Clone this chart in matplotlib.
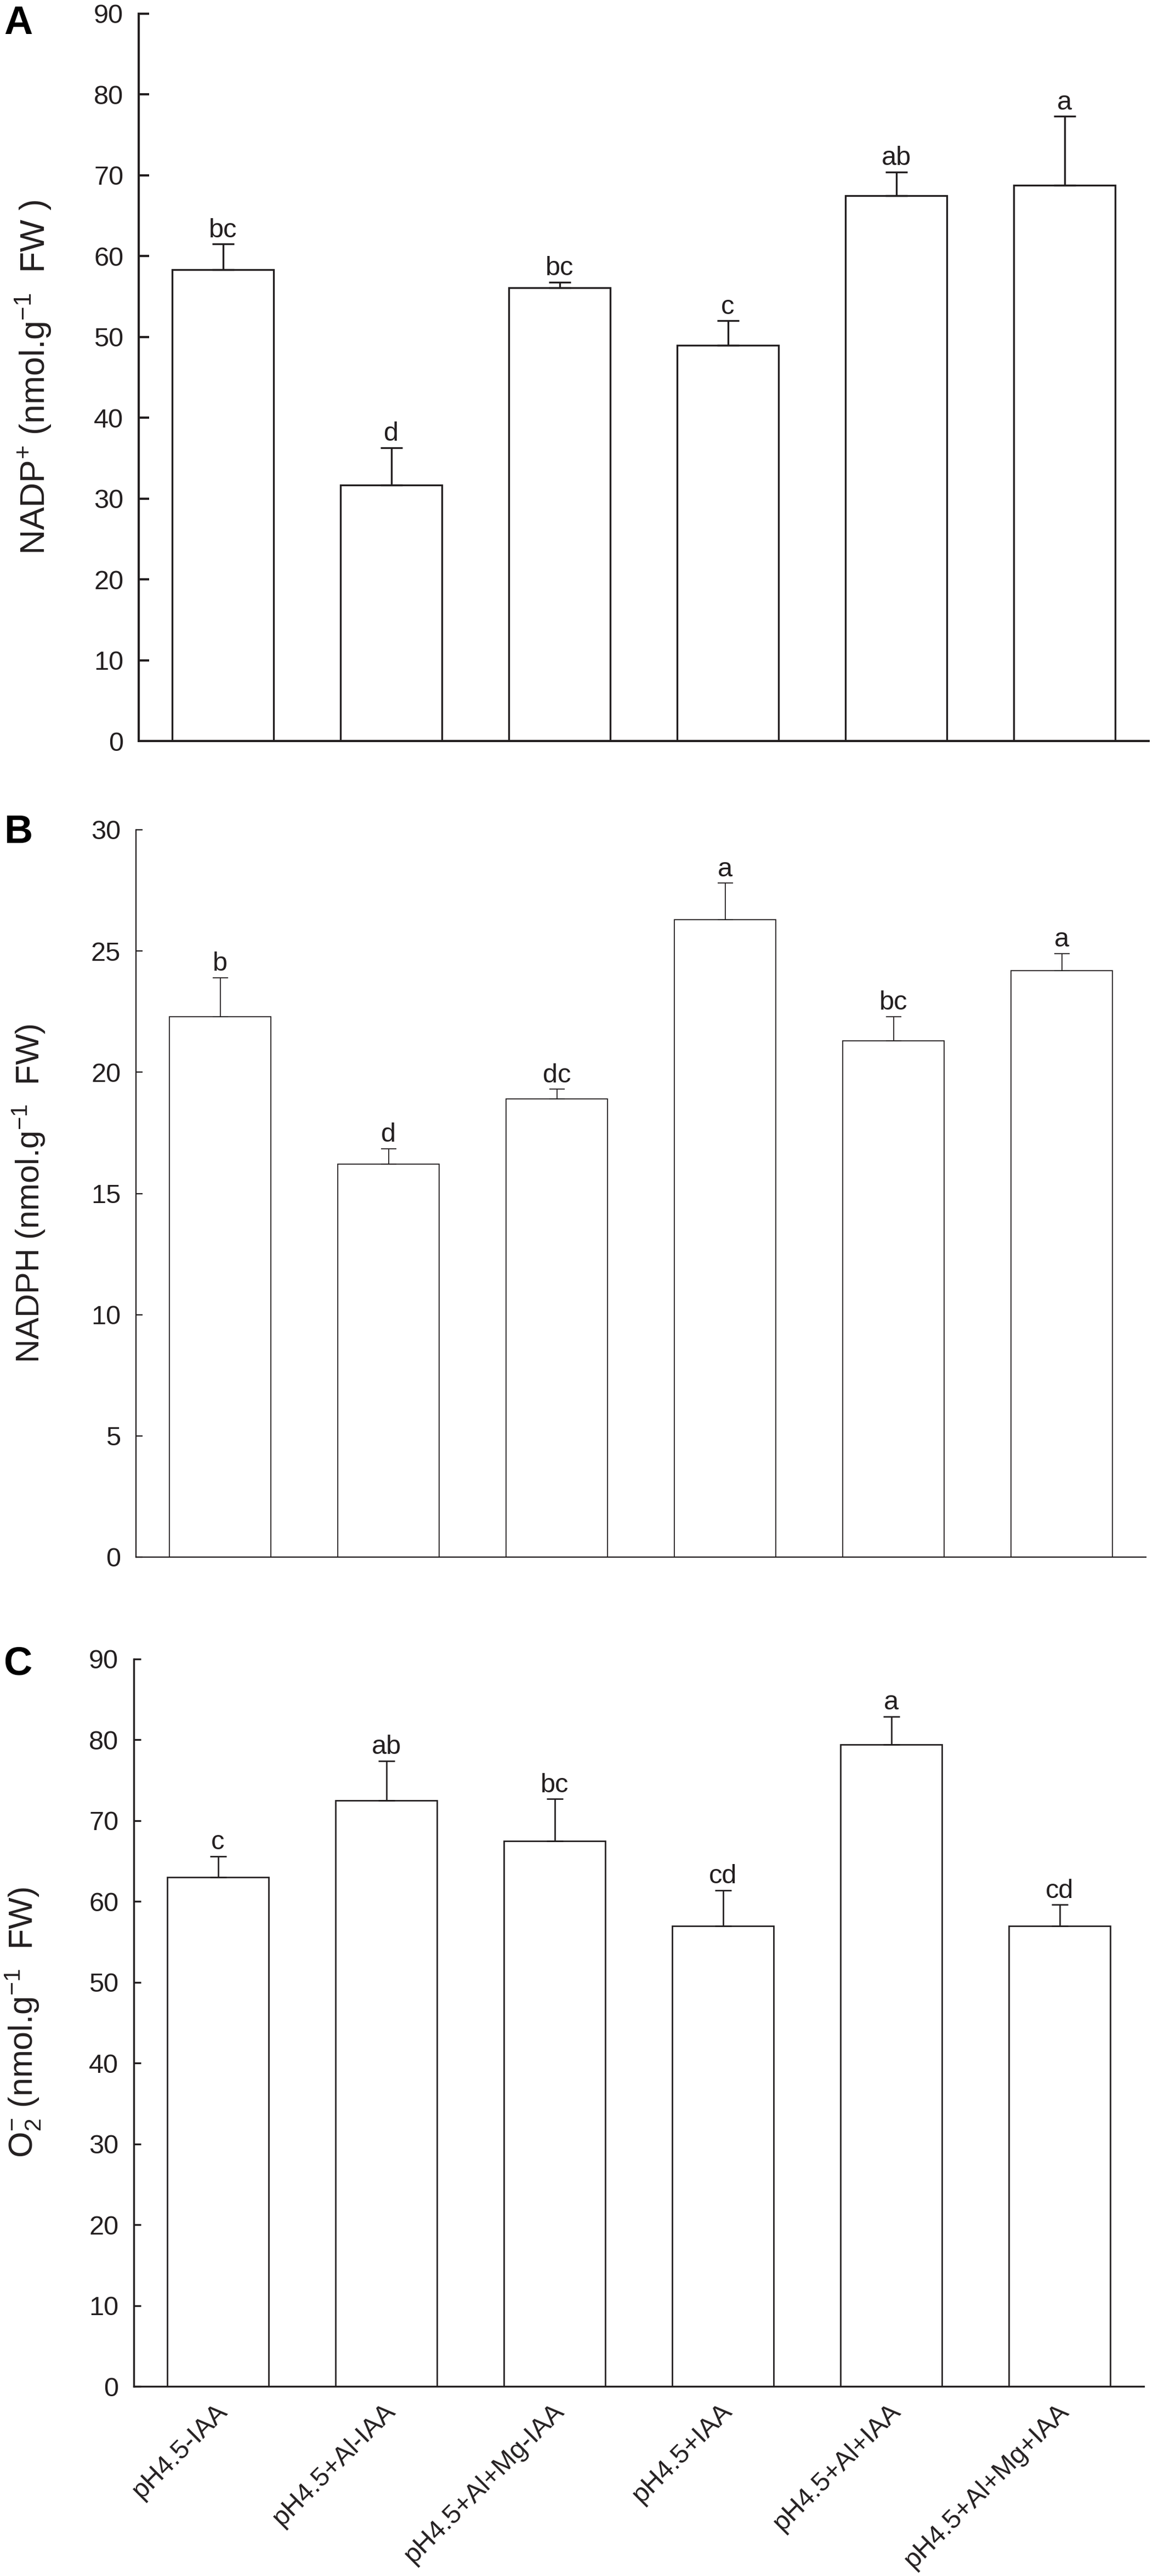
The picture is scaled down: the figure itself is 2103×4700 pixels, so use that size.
import matplotlib
matplotlib.use('Agg')
import matplotlib.pyplot as plt
import matplotlib.transforms as mtransforms
import numpy as np

plt.rcParams['font.family'] = ['Liberation Sans', 'DejaVu Sans']
plt.rcParams['mathtext.fontset'] = 'custom'
plt.rcParams['mathtext.rm'] = 'Liberation Sans'
plt.rcParams['mathtext.it'] = 'Liberation Sans:italic'
plt.rcParams['mathtext.bf'] = 'Liberation Sans:bold'

# data
treatments = ['pH4.5-IAA', 'pH4.5+Al-IAA', 'pH4.5+Al+Mg-IAA',
              'pH4.5+IAA', 'pH4.5+Al+IAA', 'pH4.5+Al+Mg+IAA']

nadp_mean = [58.3, 31.7, 56.1, 49.0, 67.5, 68.8]
nadp_err = [3.2, 4.6, 0.7, 3.0, 2.9, 8.5]
nadp_sig = ['bc', 'd', 'bc', 'c', 'ab', 'a']

nadph_mean = [22.3, 16.2, 18.9, 26.3, 21.3, 24.2]
nadph_err = [1.6, 0.65, 0.4, 1.5, 1.0, 0.7]
nadph_sig = ['b', 'd', 'dc', 'a', 'bc', 'a']

o2_mean = [63.0, 72.5, 67.5, 57.0, 79.4, 57.0]
o2_err = [2.6, 4.9, 5.2, 4.4, 3.5, 2.6]
o2_sig = ['c', 'ab', 'bc', 'cd', 'a', 'cd']

W, H = 2103, 4700
ink = '#231f20'
fig = plt.figure(figsize=(W / 100, H / 100), dpi=100)


def rect(left, top, bottom, width=1842):
    return [left / W, 1 - bottom / H, width / W, (bottom - top) / H]


panels = [
    dict(letter='A', mean=nadp_mean, err=nadp_err, sig=nadp_sig,
         ylabel='NADP$^{+}$ (nmol.g$^{-1}$  FW )', yfs=45, ylab_x=81,
         rect=rect(253, 25, 1352), ymax=90, step=10,
         lw=2.4, slw=2.9, tlen=14, cap=14.4, let_y=62),
    dict(letter='B', mean=nadph_mean, err=nadph_err, sig=nadph_sig,
         ylabel='NADPH (nmol.g$^{-1}$  FW)', yfs=43, ylab_x=72,
         rect=rect(248, 1514, 2841), ymax=30, step=5,
         lw=1.3, slw=1.65, tlen=8.6, cap=10, let_y=1538),
    dict(letter='C', mean=o2_mean, err=o2_err, sig=o2_sig,
         ylabel='O$_{2}^{-}$ (nmol.g$^{-1}$  FW)', yfs=44, ylab_x=60,
         rect=rect(244, 3027, 4354), ymax=90, step=10,
         lw=1.95, slw=2.4, tlen=9.4, cap=10.8, let_y=3056),
]

x = np.arange(len(treatments))
for i, p in enumerate(panels):
    ax = fig.add_axes(p['rect'])
    ax.bar(x, p['mean'], width=0.6, color='white', edgecolor=ink,
           linewidth=p['lw'], zorder=2)
    ax.errorbar(x, p['mean'], yerr=[np.zeros(len(x)), p['err']], fmt='none',
                ecolor=ink, elinewidth=p['lw'], capsize=p['cap'],
                capthick=p['lw'], zorder=3)
    for xi, m, e, s in zip(x, p['mean'], p['err'], p['sig']):
        ax.annotate(s, (xi, m + e), xytext=(0, 9), textcoords='offset points',
                    ha='center', va='baseline', fontsize=35, color=ink)
    ax.set_xlim(-0.5, 5.5)
    ax.set_ylim(0, p['ymax'])
    ax.set_yticks(np.arange(0, p['ymax'] + 0.1, p['step']))
    for side in ['top', 'right']:
        ax.spines[side].set_visible(False)
    for side in ['left', 'bottom']:
        ax.spines[side].set_linewidth(p['slw'])
        ax.spines[side].set_color(ink)
    ax.tick_params(axis='y', direction='in', length=p['tlen'], width=p['slw'],
                   pad=20, labelsize=35, color=ink, labelcolor=ink)
    ax.tick_params(axis='x', length=0, pad=16)
    ax.set_xticks(x)
    if i == 2:
        ax.set_xticklabels(treatments, rotation=45, ha='right', va='top',
                           fontsize=35, color=ink)
        shift = mtransforms.ScaledTranslation(0.26, 0, fig.dpi_scale_trans)
        for lab in ax.get_xticklabels():
            lab.set_transform(lab.get_transform() + shift)
    else:
        ax.set_xticklabels([])

    r = p['rect']
    yc = r[1] + r[3] / 2
    fig.text(p['ylab_x'] / W, yc, p['ylabel'], rotation=90,
             rotation_mode='anchor', ha='center', va='baseline',
             fontsize=p['yfs'], color=ink)
    fig.text(7 / W, 1 - p['let_y'] / H, p['letter'], fontsize=52,
             weight='bold', ha='left', va='baseline', color='black')

fig.savefig('out.png', dpi=100)
